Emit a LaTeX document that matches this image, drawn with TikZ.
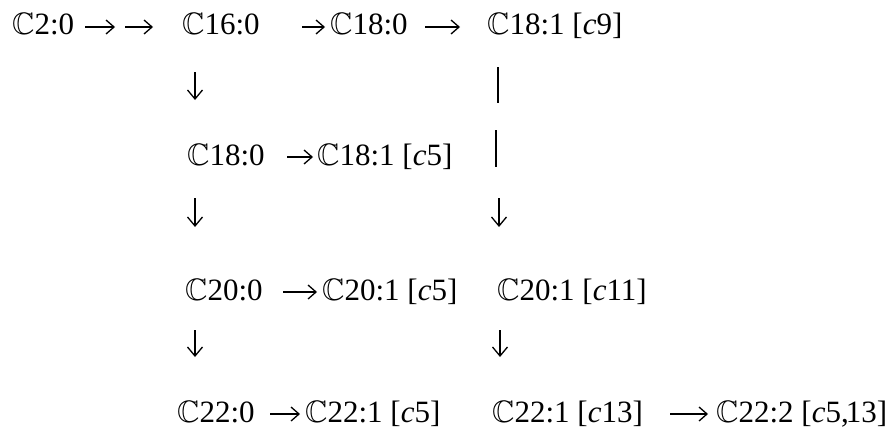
\documentclass[tikz,border=0pt]{standalone}
\usepackage{amssymb}
\usepackage{fontspec}
\setmainfont{Liberation Serif}
\usetikzlibrary{arrows.meta}
\newcommand{\dsC}{$\mathbb{C}$}
\begin{document}
\begin{tikzpicture}[x=1pt,y=1pt,
  lab/.style={inner sep=0pt, anchor=base west, text height=23pt, text depth=8pt,
              font=\fontsize{31}{36}\selectfont},
  harr/.style={line width=1.3pt, -{Straight Barb[length=8pt,width=14pt,line width=1.3pt]}},
  varr/.style={line width=1.3pt, -{Straight Barb[length=9pt,width=15pt,line width=1.3pt]}},
  vline/.style={line width=1.5pt}]
\useasboundingbox (0,0) rectangle (893,-428);
% row 1
\node[lab] (c2)   at (12,-35)  {\dsC2:0};
\node[lab] (c16)  at (182,-35) {\dsC16:0};
\node[lab] (c18a) at (330,-35) {\dsC18:0};
\node[lab] (c18b) at (487,-35) {\dsC18:1 [\textit{c}9]};
% row 3
\node[lab] (d18a) at (187,-165) {\dsC18:0};
\node[lab] (d18b) at (317,-165) {\dsC18:1 [\textit{c}5]};
% row 5
\node[lab] (e20a) at (185,-300) {\dsC20:0};
\node[lab] (e20b) at (322,-300) {\dsC20:1 [\textit{c}5]};
\node[lab] (e20c) at (497,-300) {\dsC20:1 [\textit{c}11]};
% row 7
\node[lab] (f22a) at (177,-422) {\dsC22:0};
\node[lab] (f22b) at (305,-422) {\dsC22:1 [\textit{c}5]};
\node[lab] (f22c) at (492,-422) {\dsC22:1 [\textit{c}13]};
\node[lab] (f22d) at (716,-422) {\dsC22:2 [\textit{c}5,\kern-3pt13]};
% horizontal arrows
\coordinate (mid) at (120,-27);
\draw[harr] ([shift={(73pt,8pt)}]c2.base west) -- ([xshift=-5pt]mid);
\draw[harr] ([xshift=5pt]mid) -- ([shift={(-29pt,8pt)}]c16.base west);
\draw[harr] ([shift={(120pt,8pt)}]c16.base west) -- ([shift={(-5pt,8pt)}]c18a.base west);
\draw[harr] ([shift={(95pt,8pt)}]c18a.base west) -- ([shift={(-27pt,8pt)}]c18b.base west);
\draw[harr] ([shift={(100pt,8pt)}]d18a.base west) -- ([shift={(-4pt,8pt)}]d18b.base west);
\draw[harr] ([shift={(98pt,8pt)}]e20a.base west) -- ([shift={(-5pt,8pt)}]e20b.base west);
\draw[harr] ([shift={(93pt,8pt)}]f22a.base west) -- ([shift={(-5pt,8pt)}]f22b.base west);
\draw[harr] ([shift={(178pt,8pt)}]f22c.base west) -- ([shift={(-8pt,8pt)}]f22d.base west);
% vertical arrows, left column
\draw[varr] ([shift={(13pt,-37pt)}]c16.base west) -- ++(0,-28);
\draw[varr] ([shift={(8pt,-33pt)}]d18a.base west) -- ++(0,-29);
\draw[varr] ([shift={(10pt,-30pt)}]e20a.base west) -- ++(0,-27);
% right column
\draw[vline] ([shift={(11pt,-32pt)}]c18b.base west) -- ++(0,-36);
\draw[vline] ([shift={(9pt,-95pt)}]c18b.base west) -- ++(0,-37);
\draw[varr] ([shift={(12pt,-163pt)}]c18b.base west) -- ++(0,-29);
\draw[varr] ([shift={(3pt,-30pt)}]e20c.base west) -- ++(0,-27);
\end{tikzpicture}
\end{document}
